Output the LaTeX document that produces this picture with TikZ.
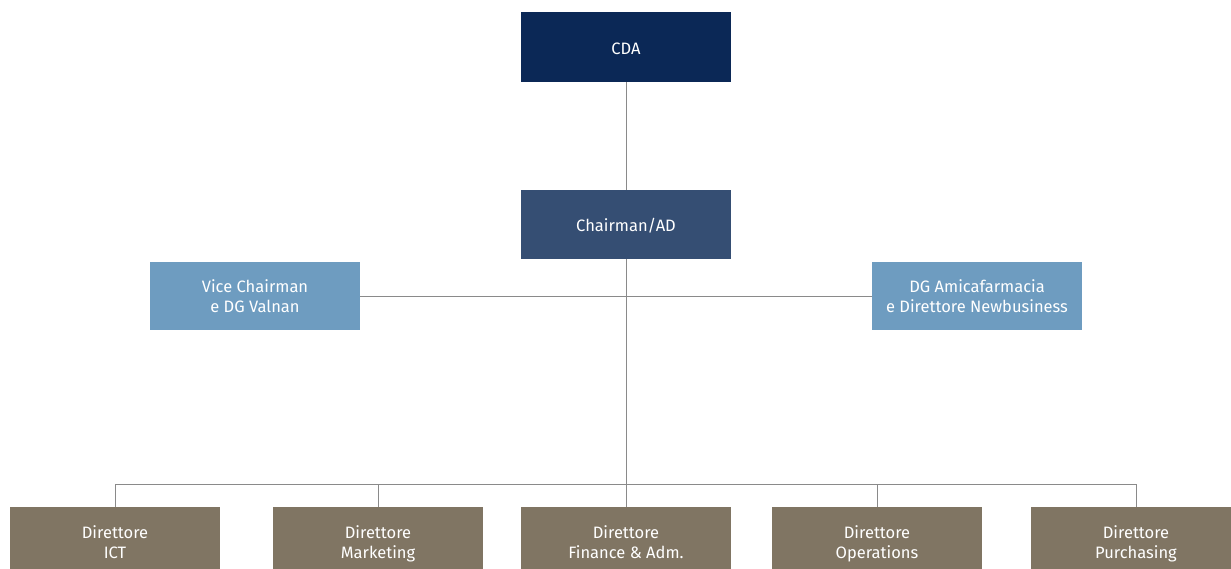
\documentclass[tikz,border=0pt]{standalone}
\usepackage{fontspec}
\setmainfont{Fira Sans}
\definecolor{cdac}{HTML}{0B2856}
\definecolor{chairc}{HTML}{354E73}
\definecolor{lightc}{HTML}{6E9CC0}
\definecolor{brownc}{HTML}{807563}
\definecolor{linec}{HTML}{8A8A8A}
\newcommand{\twol}[2]{\rule{0pt}{19pt}#1\\#2\strut}
\newcommand{\onel}[1]{\rule[-1pt]{0pt}{17pt}#1}
\begin{document}
\begin{tikzpicture}[x=1pt,y=-1pt,
  box/.style={minimum width=210pt,minimum height=70pt,inner sep=0pt,text=white,align=center,font=\fontsize{16.5}{20}\selectfont},
  conn/.style={draw=linec,line width=0.9pt}]
\useasboundingbox (0,0) rectangle (1231,569);
\clip (0,0) rectangle (1231,569);
\node[box,fill=cdac] (cda) at (626,47) {\onel{CDA}};
\node[box,fill=chairc,minimum height=69pt] (chair) at (626,224.5) {\onel{Chairman/AD}};
\node[box,fill=lightc,minimum height=68pt] (vice) at (255,296) {\twol{Vice Chairman}{e DG Valnan}};
\node[box,fill=lightc,minimum height=68pt] (dg) at (977,296) {\twol{DG Amicafarmacia}{e Direttore Newbusiness}};
\node[box,fill=brownc] (ict) at (115,542) {\twol{Direttore}{ICT}};
\node[box,fill=brownc] (mkt) at (378,542) {\twol{Direttore}{Marketing}};
\node[box,fill=brownc] (fin) at (626,542) {\twol{Direttore}{Finance \& Adm.}};
\node[box,fill=brownc] (ops) at (877,542) {\twol{Direttore}{Operations}};
\node[box,fill=brownc] (pur) at (1136,542) {\twol{Direttore}{Purchasing}};
\coordinate (busl) at (115,484);
\coordinate (busr) at (1136,484);
\coordinate (busm) at (626,484);
\coordinate (busmk) at (378,484);
\coordinate (busop) at (877,484);
\path[conn] (cda) -- (chair);
\path[conn] (chair) -- (busm);
\path[conn] (vice.east) -- (dg.west);
\path[conn] (busl) -- (busr);
\path[conn] (busl) -- (ict.north);
\path[conn] (busmk) -- (mkt.north);
\path[conn] (busm) -- (fin.north);
\path[conn] (busop) -- (ops.north);
\path[conn] (busr) -- (pur.north);
\end{tikzpicture}
\end{document}
